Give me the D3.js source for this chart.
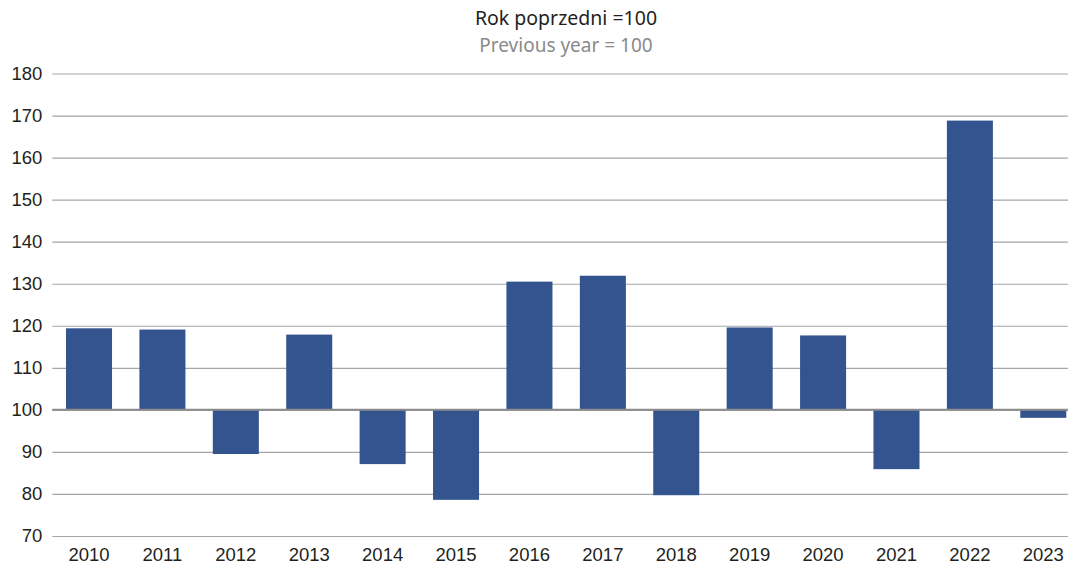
<!DOCTYPE html>
<html>
<head>
<meta charset="utf-8">
<script src="https://cdn.jsdelivr.net/npm/d3@7"></script>
<style>
  body { margin: 0; background: #fff; }
  svg { display: block; font-family: "Noto Sans", "Open Sans", sans-serif; }
</style>
</head>
<body>
<svg id="chart"></svg>
<script>
var width = 1068;
var height = 565;

var years = ["2010", "2011", "2012", "2013", "2014", "2015", "2016",
             "2017", "2018", "2019", "2020", "2021", "2022", "2023"];
var values = [119.4, 119.1, 89.5, 117.9, 87.1, 78.6, 130.5,
              131.9, 79.7, 119.6, 117.7, 85.9, 168.8, 98.1];
var yTicks = [70, 80, 90, 100, 110, 120, 130, 140, 150, 160, 170, 180];
var baseline = 100;

var svg = d3.select("#chart")
  .attr("width", width)
  .attr("height", height);

// band runs a little past the right edge, like the original
var xScale = d3.scaleBand()
  .domain(years)
  .range([52.3, 1080])
  .paddingInner(0.373)
  .paddingOuter(0.1865);

var yScale = d3.scaleLinear()
  .domain([70, 180])
  .range([536, 73.5]);

// gridlines
var yAxis = d3.axisLeft(yScale)
  .tickValues(yTicks)
  .tickSize(-(width - 52.3))
  .tickSizeOuter(0)
  .tickPadding(10);

var gy = svg.append("g")
  .attr("transform", "translate(52.3, 0)")
  .call(yAxis);
gy.select(".domain").remove();
gy.selectAll(".tick line")
  .attr("stroke", "#a6a6a6")
  .attr("stroke-width", 1.2);
gy.selectAll(".tick text")
  .attr("x", -10)
  .style("font-size", "18.5px")
  .attr("fill", "#231f20");

// bars from baseline 100
svg.append("g")
  .selectAll("rect")
  .data(values)
  .enter()
  .append("rect")
  .attr("x", (d, i) => xScale(years[i]))
  .attr("width", xScale.bandwidth())
  .attr("y", (d) => yScale(Math.max(d, baseline)))
  .attr("height", (d) => Math.abs(yScale(d) - yScale(baseline)))
  .attr("fill", "#33548e");

// baseline line drawn over bars
svg.append("line")
  .attr("x1", 52.3)
  .attr("x2", width)
  .attr("y1", yScale(baseline))
  .attr("y2", yScale(baseline))
  .attr("stroke", "#8c8c8c")
  .attr("stroke-width", 2);

// x labels
var xAxis = d3.axisBottom(xScale).tickSize(0).tickPadding(10);
var gx = svg.append("g")
  .attr("transform", "translate(0, 538)")
  .call(xAxis);
gx.select(".domain").remove();
gx.selectAll(".tick text")
  .style("font-size", "18.5px")
  .attr("fill", "#231f20");

// titles
svg.append("text")
  .attr("x", 566)
  .attr("y", 25)
  .style("text-anchor", "middle")
  .style("font-size", "19.5px")
  .attr("fill", "#231f20")
  .text("Rok poprzedni =100");

svg.append("text")
  .attr("x", 566)
  .attr("y", 52)
  .style("text-anchor", "middle")
  .style("font-size", "19px")
  .attr("fill", "#8a8a8a")
  .text("Previous year = 100");
</script>
</body>
</html>
